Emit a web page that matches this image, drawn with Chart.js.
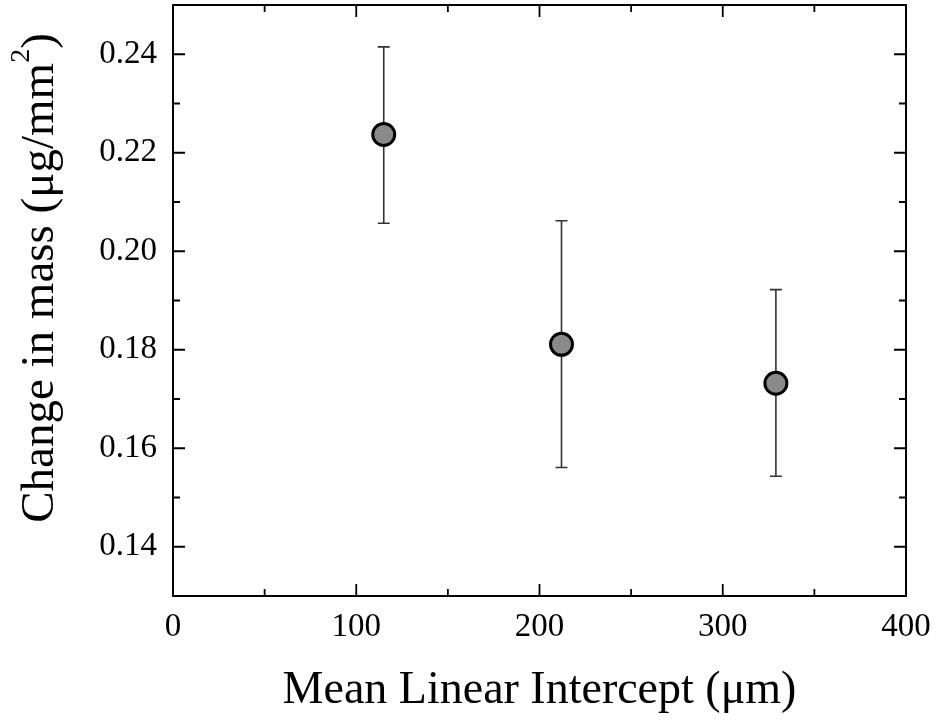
<!DOCTYPE html>
<html>
<head>
<meta charset="utf-8">
<script src="https://cdn.jsdelivr.net/npm/chart.js@4.4.1/dist/chart.umd.min.js"></script>
<style>
  html, body { margin: 0; padding: 0; background: #fff; }
  #wrap { width: 937px; height: 723px; }
</style>
</head>
<body>
<div id="wrap"><canvas id="grafica"></canvas></div>
<script>
// datos
const xValores = [115, 212, 329];
const yValores = [0.2237, 0.1811, 0.1732];
const yErrArriba = [0.2415, 0.2062, 0.1922];
const yErrAbajo = [0.2057, 0.1561, 0.1543];

const xTicks = [0, 100, 200, 300, 400];
const yTicks = [0.14, 0.16, 0.18, 0.20, 0.22, 0.24];

const fuente = "'Liberation Serif', 'Times New Roman', serif";

// marco + marcas hacia adentro en los 4 lados
const marcoPlugin = {
    id: 'marco',
    afterDraw(chart) {
        const { ctx, chartArea: a, scales: { x, y } } = chart;
        ctx.save();
        ctx.strokeStyle = '#000';
        ctx.lineWidth = 2;
        ctx.strokeRect(a.left, a.top, a.right - a.left, a.bottom - a.top);
        ctx.lineWidth = 1.8;
        ctx.beginPath();
        const largo = 12, corto = 7;
        for (let i = 0; i < xTicks.length; i++) {
            const px = x.getPixelForValue(xTicks[i]);
            ctx.moveTo(px, a.bottom); ctx.lineTo(px, a.bottom - largo);
            ctx.moveTo(px, a.top); ctx.lineTo(px, a.top + largo);
            if (i < xTicks.length - 1) {
                const pm = x.getPixelForValue((xTicks[i] + xTicks[i + 1]) / 2);
                ctx.moveTo(pm, a.bottom); ctx.lineTo(pm, a.bottom - corto);
                ctx.moveTo(pm, a.top); ctx.lineTo(pm, a.top + corto);
            }
        }
        const yMenores = [0.13];
        yTicks.forEach(v => yMenores.push(v + 0.01));
        yTicks.forEach(v => {
            const py = y.getPixelForValue(v);
            ctx.moveTo(a.left, py); ctx.lineTo(a.left + largo, py);
            ctx.moveTo(a.right, py); ctx.lineTo(a.right - largo, py);
        });
        yMenores.forEach(v => {
            const py = y.getPixelForValue(v);
            ctx.moveTo(a.left, py); ctx.lineTo(a.left + corto, py);
            ctx.moveTo(a.right, py); ctx.lineTo(a.right - corto, py);
        });
        ctx.stroke();

        // titulo del eje y con el 2 en superindice
        const partes = [['Change in mass (μg/mm', 47, 0], ['2', 28, -24], [')', 47, 0]];
        let total = 0;
        partes.forEach(p => { ctx.font = p[1] + 'px ' + fuente; total += ctx.measureText(p[0]).width; });
        ctx.translate(53, 278);
        ctx.rotate(-Math.PI / 2);
        ctx.fillStyle = '#000';
        ctx.textBaseline = 'alphabetic';
        ctx.textAlign = 'left';
        let cx = -total / 2;
        partes.forEach(p => {
            ctx.font = p[1] + 'px ' + fuente;
            ctx.fillText(p[0], cx, p[2]);
            cx += ctx.measureText(p[0]).width;
        });
        ctx.restore();
    }
};

// barras de error debajo de los puntos
const errorPlugin = {
    id: 'barrasError',
    beforeDatasetsDraw(chart) {
        const { ctx, scales: { x, y } } = chart;
        ctx.save();
        ctx.strokeStyle = '#333';
        ctx.lineWidth = 1.6;
        ctx.beginPath();
        xValores.forEach((xv, i) => {
            const px = x.getPixelForValue(xv);
            const pTop = y.getPixelForValue(yErrArriba[i]);
            const pBot = y.getPixelForValue(yErrAbajo[i]);
            ctx.moveTo(px, pTop); ctx.lineTo(px, pBot);
            ctx.moveTo(px - 6, pTop); ctx.lineTo(px + 6, pTop);
            ctx.moveTo(px - 6, pBot); ctx.lineTo(px + 6, pBot);
        });
        ctx.stroke();
        ctx.restore();
    }
};

new Chart(document.getElementById('grafica'), {
    type: 'scatter',
    data: {
        datasets: [{
            data: xValores.map((v, i) => ({ x: v, y: yValores[i] })),
            backgroundColor: '#8a8a8a',
            borderColor: '#000',
            borderWidth: 3,
            pointRadius: 11,
            pointHoverRadius: 11
        }]
    },
    options: {
        responsive: true,
        maintainAspectRatio: false,
        animation: false,
        layout: { autoPadding: false, padding: { top: 5, right: 31, left: 0, bottom: 0 } },
        plugins: { legend: { display: false }, tooltip: { enabled: false } },
        scales: {
            x: {
                type: 'linear',
                min: 0, max: 400,
                afterBuildTicks: s => { s.ticks = xTicks.map(v => ({ value: v })); },
                afterFit: s => { s.height = 127; s.paddingLeft = 0; s.paddingRight = 0; },
                grid: { display: false, drawTicks: false },
                border: { display: false },
                ticks: { color: '#000', padding: 12, maxRotation: 0, font: { family: fuente, size: 33 } },
                title: {
                    display: true,
                    text: 'Mean Linear Intercept (μm)',
                    color: '#000',
                    padding: { bottom: 4 },
                    font: { family: fuente, size: 46 }
                }
            },
            y: {
                min: 0.13, max: 0.25,
                afterBuildTicks: s => { s.ticks = yTicks.map(v => ({ value: v })); },
                afterFit: s => { s.width = 173; s.paddingTop = 0; s.paddingBottom = 0; },
                grid: { display: false, drawTicks: false },
                border: { display: false },
                ticks: {
                    color: '#000', padding: 16,
                    font: { family: fuente, size: 33 },
                    callback: v => v.toFixed(2)
                }
            }
        }
    },
    plugins: [errorPlugin, marcoPlugin]
});
</script>
</body>
</html>
